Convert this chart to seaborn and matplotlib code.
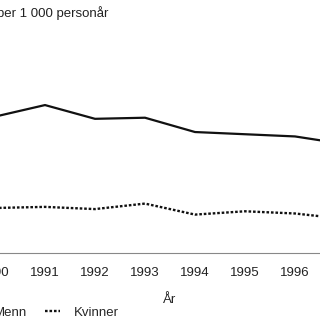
import matplotlib
matplotlib.use("Agg")
import matplotlib.pyplot as plt
import seaborn as sns
import pandas as pd
from matplotlib.ticker import FixedLocator

years = [1990, 1991, 1992, 1993, 1994, 1995, 1996, 1997]
menn = [12.4, 13.45, 12.2, 12.3, 11.0, 10.8, 10.6, 9.9]
kvinner = [4.1, 4.2, 4.0, 4.5, 3.5, 3.8, 3.6, 3.1]
series_names = ["Menn", "Kvinner"]
title_text = "per 1 000 personår"
xlabel_text = "År"

sns.set_theme(style="white")
plt.rcParams['font.family'] = ['Liberation Sans', 'DejaVu Sans']
FS = 9.5

df = pd.DataFrame({"År": years * 2,
                   "Verdi": menn + kvinner,
                   "Kjønn": [series_names[0]] * len(years) + [series_names[1]] * len(years)})

fig = plt.figure(figsize=(3.2, 3.2), dpi=100)
ax = fig.add_axes([-0.09375, 0.209, 1.25, 0.688])

sns.lineplot(data=df[df["Kjønn"] == "Menn"], x="År", y="Verdi", ax=ax,
             color="#111111", linewidth=1.6, label="Menn", legend=False)
sns.lineplot(data=df[df["Kjønn"] == "Kvinner"], x="År", y="Verdi", ax=ax,
             color="#111111", linewidth=1.7, linestyle=(0, (1.1, 0.8)),
             label="Kvinner", legend=False)

ax.set_xlim(1989.5, 1997.5)
ax.set_ylim(0, 20)
ax.set_xticks(years)
ax.set_xticklabels([str(y) for y in years], fontsize=FS, color="#222222")
ax.tick_params(axis="x", which="major", length=0, pad=10)
ax.xaxis.set_minor_locator(FixedLocator([y + 0.5 for y in years[:-1]]))
ax.tick_params(axis="x", which="minor", length=4, direction="inout", color="#888888", width=0.8)
ax.set_yticks([])
ax.set_ylabel("")
ax.set_xlabel(xlabel_text, fontsize=FS, color="#222222", labelpad=11)
for s in ["left", "top", "right"]:
    ax.spines[s].set_visible(False)
ax.spines["bottom"].set_color("#888888")
ax.spines["bottom"].set_linewidth(0.8)

fig.text(-0.008, 0.959, title_text, fontsize=FS, color="#222222", ha="left", va="center")

handles, labels = ax.get_legend_handles_labels()
fig.legend(handles, labels, loc="center left", bbox_to_anchor=(-0.1125, 0.022),
           ncol=2, frameon=False, fontsize=FS, handlelength=1.14, handletextpad=1.1,
           columnspacing=1.36, borderpad=0, borderaxespad=0)

fig.savefig("out.png", dpi=100, facecolor="white")
